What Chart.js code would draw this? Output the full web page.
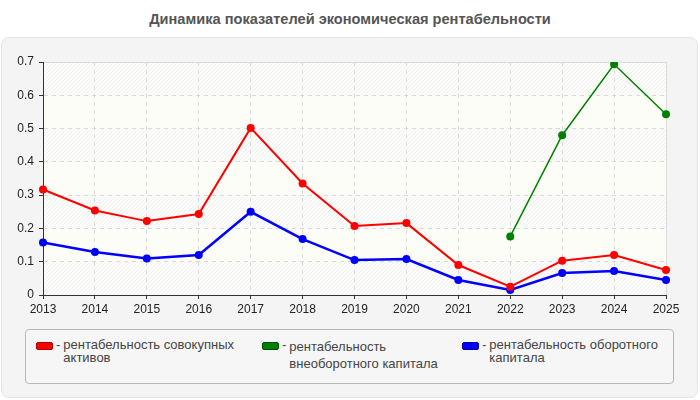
<!DOCTYPE html>
<html>
<head>
<meta charset="utf-8">
<script src="https://cdn.jsdelivr.net/npm/chart.js@4"></script>
<style>
  body { margin:0; width:700px; height:400px; background:#fff; position:relative; overflow:hidden;
         font-family:"Liberation Sans", Arial, sans-serif; }
  #title { position:absolute; left:0; top:11px; width:700px; text-align:center;
           font-size:14.6px; font-weight:bold; color:#555; }
  #panel { position:absolute; left:1px; top:37px; width:695px; height:359px;
           background:#f4f4f4; border:1px solid #e4e4e4; border-radius:8px; }
  #chart { position:absolute; left:0; top:0; }
  #legend { position:absolute; left:25px; top:329px; width:647px; height:53px;
            border:1px solid #b8b8b8; border-radius:4px; background:#f6f6f6; }
  .item { position:absolute; top:8px; display:flex; font-size:13px; color:#444; line-height:13px; }
  .sw { width:15px; height:6px; border-radius:2px; margin-top:4px; margin-right:3px; }
  .dash { margin-right:3px; }
  .txt { width:180px; }
</style>
</head>
<body>
<div id="title">Динамика показателей экономическая рентабельности</div>
<div id="panel"></div>
<div id="legend"></div>
<canvas id="chart" width="700" height="400"></canvas>
<script>
// ------------------------------------------------------------
//  Datos
// ------------------------------------------------------------
const years = ['2013','2014','2015','2016','2017','2018','2019','2020','2021','2022','2023','2024','2025']

const totalAssets   = [0.317, 0.254, 0.222, 0.243, 0.502, 0.335, 0.207, 0.216, 0.090, 0.025, 0.103, 0.120, 0.075]
const fixedCapital  = [null, null, null, null, null, null, null, null, null, 0.176, 0.480, 0.693, 0.543]
const workingCap    = [0.158, 0.129, 0.110, 0.120, 0.250, 0.168, 0.105, 0.108, 0.045, 0.015, 0.066, 0.072, 0.045]

const seriesNames  = ['рентабельность совокупных активов', 'рентабельность внеоборотного капитала', 'рентабельность оборотного капитала']
const seriesColors = ['#ff0000', '#008000', '#0000ff']
const yTicks       = [0, 0.1, 0.2, 0.3, 0.4, 0.5, 0.6, 0.7]

// ------------------------------------------------------------
//  Leyenda HTML
// ------------------------------------------------------------
const legendX = [10, 236, 436]
const borderCols = ['#b00000', '#005000', '#0000a0']
seriesNames.forEach((name, i) => {
  const el = document.createElement('div')
  el.className = 'item'
  el.style.left = legendX[i] + 'px'
  el.innerHTML = `<div class="sw" style="background:${seriesColors[i]};border:1px solid ${borderCols[i]}"></div>` +
                 `<div class="dash">-</div><div class="txt">${name}</div>`
  if (i === 1) el.querySelector('.txt').style.lineHeight = '17px'
  document.getElementById('legend').appendChild(el)
})

// ------------------------------------------------------------
//  Fondo rayado del área
// ------------------------------------------------------------
function makeHatch(ctx) {
  const c = document.createElement('canvas')
  c.width = 4; c.height = 4
  const g = c.getContext('2d')
  g.fillStyle = '#fcfcfb'
  g.fillRect(0, 0, 4, 4)
  g.strokeStyle = '#ececec'
  g.lineWidth = 0.8
  g.beginPath()
  g.moveTo(0, 4); g.lineTo(4, 0)
  g.moveTo(-2, 2); g.lineTo(2, -2)
  g.moveTo(2, 6); g.lineTo(6, 2)
  g.stroke()
  return ctx.createPattern(c, 'repeat')
}

const bandsPlugin = {
  id: 'bands',
  beforeDraw(chart) {
    const { ctx, chartArea: a, scales: { y } } = chart
    const hatch = makeHatch(ctx)
    ctx.save()
    for (let i = 0; i < yTicks.length - 1; i++) {
      const top = y.getPixelForValue(yTicks[i + 1])
      const bot = y.getPixelForValue(yTicks[i])
      ctx.fillStyle = i % 2 === 0 ? hatch : '#fdfdf7'
      ctx.fillRect(a.left, top, a.right - a.left, bot - top)
    }
    ctx.strokeStyle = '#dcdcdc'
    ctx.lineWidth = 1
    ctx.strokeRect(a.left + 0.5, a.top + 0.5, a.right - a.left, a.bottom - a.top)
    ctx.restore()
  }
}

function ds(label, data, color, width) {
  return {
    label, data,
    borderColor: color,
    backgroundColor: color,
    borderWidth: width,
    pointRadius: 4,
    pointHoverRadius: 4,
    pointBorderWidth: 0,
    tension: 0,
    spanGaps: false,
  }
}

new Chart(document.getElementById('chart'), {
  type: 'line',
  data: {
    labels: years,
    datasets: [
      ds(seriesNames[0], totalAssets,  seriesColors[0], 2),
      ds(seriesNames[1], fixedCapital, seriesColors[1], 1.5),
      ds(seriesNames[2], workingCap,   seriesColors[2], 2.5),
    ]
  },
  options: {
    responsive: false,
    animation: false,
    devicePixelRatio: 1,
    layout: { padding: { left: 0, right: 34, top: 62, bottom: 0 } },
    plugins: { legend: { display: false }, tooltip: { enabled: false } },
    scales: {
      x: {
        offset: false,
        grid:   { color: '#dadada', tickColor: '#333', tickLength: 4 },
        border: { color: '#333', width: 1, dash: [4, 4] },
        ticks:  { color: '#222', font: { size: 12, family: 'Liberation Sans' }, padding: 3, maxRotation: 0, autoSkip: false },
        afterFit: s => { s.height = 105 },
      },
      y: {
        min: 0, max: 0.7,
        grid:   { color: '#dadada', tickColor: '#333', tickLength: 4 },
        border: { color: '#333', width: 1, dash: [4, 4] },
        ticks:  { color: '#222', font: { size: 12, family: 'Liberation Sans' }, padding: 5, stepSize: 0.1,
                  callback: v => String(Math.round(v * 10) / 10) },
        afterFit: s => { s.width = 43 },
      }
    }
  },
  plugins: [bandsPlugin]
})
</script>
</body>
</html>
